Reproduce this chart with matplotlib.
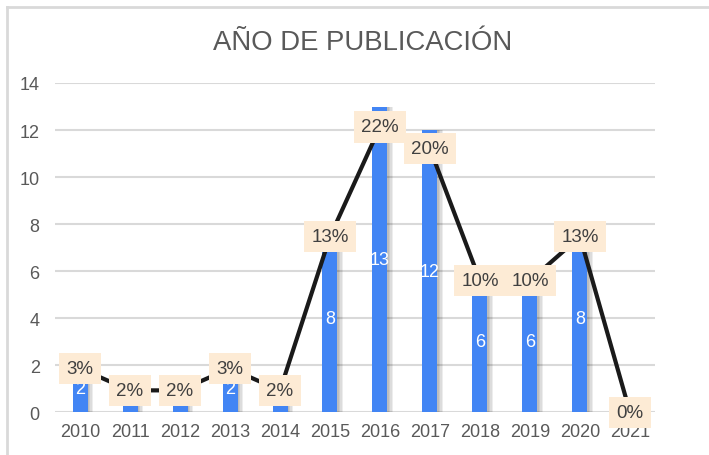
import matplotlib
matplotlib.use('Agg')
import matplotlib.pyplot as plt
import matplotlib.patheffects as pe
import numpy as np

plt.rcParams['font.family'] = ['Liberation Sans', 'DejaVu Sans']

# publications per year
years = ['2010', '2011', '2012', '2013', '2014', '2015',
         '2016', '2017', '2018', '2019', '2020', '2021']
counts = [2, 1, 1, 2, 1, 8, 13, 12, 6, 6, 8, 0]

counts_arr = np.array(counts, dtype=float)
shares = counts_arr / counts_arr.sum()   # line series (share of total)

BLUE = '#4285f4'
GRID = '#d9d9d9'
TXT = '#595959'
LABEL_BG = '#fdebd5'

fig = plt.figure(figsize=(7.09, 4.56), dpi=100, facecolor='white')
ax = fig.add_axes([0.0776, 0.0936, 0.8462, 0.7222])
x = np.arange(len(years))

# bar shadow: a few soft offset copies behind the bar
shadow = [pe.SimplePatchShadow(offset=(k, 0), shadow_rgbFace='#000000', alpha=0.07)
          for k in (1, 2, 3, 4)]
bars = ax.bar(x, counts, width=0.3, color=BLUE, zorder=2,
              path_effects=shadow + [pe.Normal()])

for xi, c in zip(x, counts):
    if c >= 2:
        ax.text(xi, c / 2, str(c), ha='center', va='center', color='white',
                fontsize=13, zorder=3)

ax.set_xlim(-0.5, len(years) - 0.5)
ax.set_ylim(0, 14)
ax.set_yticks(range(0, 15, 2))
ax.set_xticks(x)
ax.set_xticklabels(years)
ax.grid(axis='y', color=GRID, linewidth=1.5, zorder=0)
ax.set_axisbelow(True)
for s in ax.spines.values():
    s.set_visible(False)
ax.tick_params(length=0, colors=TXT, labelsize=13)
ax.tick_params(axis='x', pad=8)
ax.tick_params(axis='y', pad=11)

# share line on hidden secondary axis
ax2 = ax.twinx()
ax2.set_ylim(0, 0.25)
ax2.plot(x, shares, color='#1a1a1a', linewidth=3, zorder=4, clip_on=False)
ax2.set_yticks([])
for s in ax2.spines.values():
    s.set_visible(False)
for xi, v in zip(x, shares):
    ax2.text(xi, v, f'{v * 100:.0f}%', ha='center', va='center', color='#404040',
             fontsize=13.5, zorder=5, clip_on=False,
             bbox=dict(boxstyle='square,pad=0.38', facecolor=LABEL_BG, edgecolor='none'))

fig.text(0.511, 0.905, 'AÑO DE PUBLICACIÓN', ha='center', va='center',
         fontsize=19.8, color=TXT)

# outer frame (top and left edges visible in the crop)
fig.add_artist(plt.Line2D([0.0099, 1.0], [0.982, 0.982], transform=fig.transFigure,
                          color=GRID, linewidth=2))
fig.add_artist(plt.Line2D([0.0099, 0.0099], [0.0, 0.982], transform=fig.transFigure,
                          color=GRID, linewidth=2))

fig.savefig('out.png', dpi=100, facecolor='white')
